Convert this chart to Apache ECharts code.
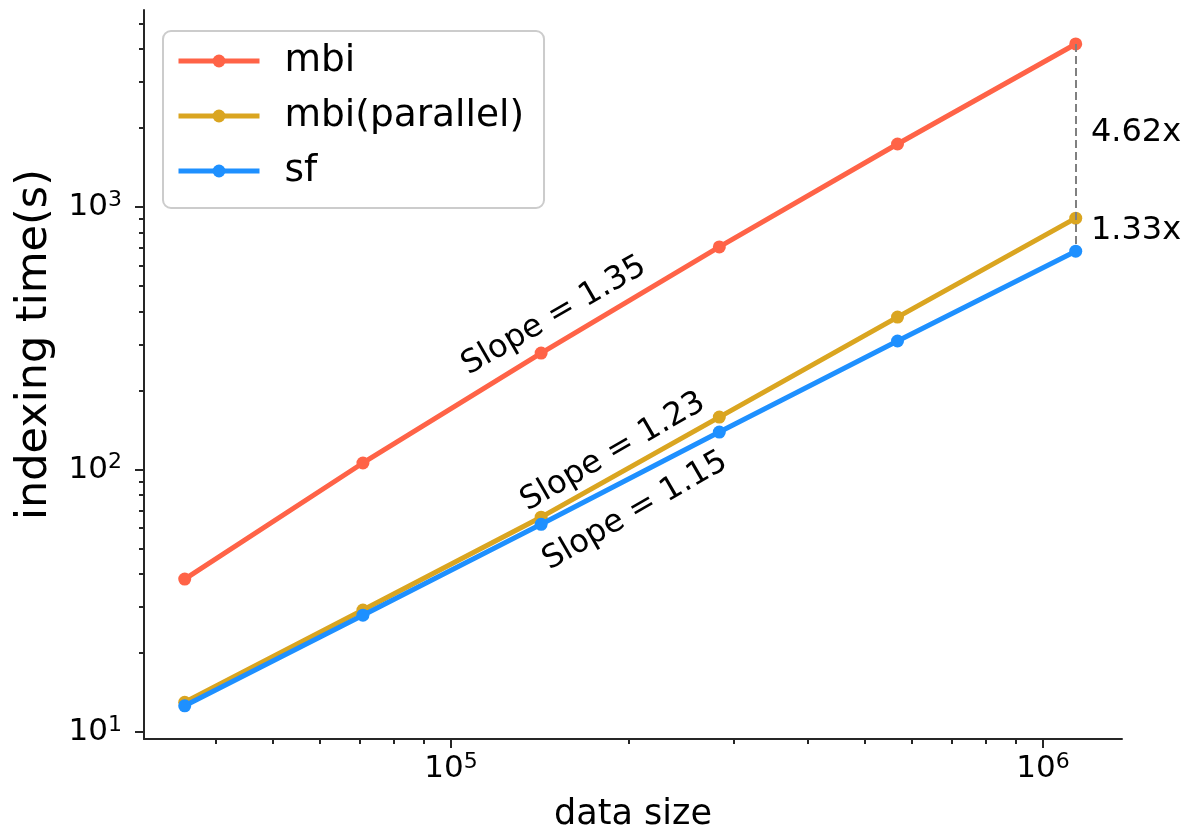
<!DOCTYPE html>
<html><head><meta charset="utf-8">
<script src="https://cdn.jsdelivr.net/npm/echarts@6/dist/echarts.min.js"></script>
<style>html,body{margin:0;padding:0;background:#fff}#c{width:1191px;height:838px}</style>
</head><body><div id="c"></div>
<script>
// ---- data ----
const dataSizes = [35500, 71000, 142000, 284000, 568000, 1136000];
const mbi = [38.3, 106, 278, 705, 1738, 4180];
const mbiParallel = [13.0, 29.2, 65.9, 158.5, 381, 907];
const sf = [12.6, 27.9, 61.9, 139, 309, 679];
const seriesNames = ['mbi', 'mbi(parallel)', 'sf'];
const xMajorTicks = [1e5, 1e6];
const yMajorTicks = [10, 100, 1000];
const slopeTexts = ['Slope = 1.35', 'Slope = 1.23', 'Slope = 1.15'];
const ratioTexts = ['4.62x', '1.33x'];

// ---- config ----
const FONT = 'DejaVu Sans';
const AX = '#262626';
const colors = ['#FF6347', '#DAA520', '#1E90FF'];
const xMin = 30300, xMax = 1.36e6, yMin = 9.42, yMax = 5630;

function minorTicks(lo, hi) {
  const out = [];
  for (let e = Math.floor(Math.log10(lo)); e <= Math.ceil(Math.log10(hi)); e++) {
    for (let m = 2; m <= 9; m++) {
      const v = m * Math.pow(10, e);
      if (v >= lo && v <= hi) out.push(v);
    }
  }
  return out;
}
const powFmt = v => '{b|10}{s|' + Math.round(Math.log10(v)) + '}';
const rich = {
  b: { fontSize: 31, fontFamily: FONT, color: '#000' },
  s: { fontSize: 22, fontFamily: FONT, color: '#000', padding: [0, 0, 14, 0] }
};
const tickLine = { lineStyle: { color: AX, width: 2 } };

function pairs(ys) { return dataSizes.map((x, i) => [x, ys[i]]); }

const lineSeries = [mbi, mbiParallel, sf].map((ys, i) => ({
  name: seriesNames[i],
  type: 'line',
  data: pairs(ys),
  symbol: 'circle',
  symbolSize: 13,
  lineStyle: { width: 5, color: colors[i] },
  itemStyle: { color: colors[i] },
  z: 3 + i
}));
lineSeries[2].markLine = {
  silent: true,
  symbol: ['none', 'none'],
  label: { show: false },
  lineStyle: { type: [8, 4], color: '#808080', width: 2 },
  data: [[{ coord: [dataSizes[5], mbi[5]] }, { coord: [dataSizes[5], sf[5]] }]]
};

const annotations = {
  type: 'scatter',
  silent: true,
  symbolSize: 0,
  z: 10,
  itemStyle: { opacity: 1 },
  label: { show: true, formatter: '{b}', position: 'inside', fontSize: 32, fontFamily: FONT,
           color: '#000', textBorderWidth: 0 },
  data: [
    { name: slopeTexts[0], value: [149300, 384.6], label: { rotate: 30 } },
    { name: slopeTexts[1], value: [187800, 116.6], label: { rotate: 30 } },
    { name: slopeTexts[2], value: [204700, 69.5], label: { rotate: 30 } },
    { name: ratioTexts[0], value: [1205000, 1914], label: { align: 'left' } },
    { name: ratioTexts[1], value: [1205000, 811], label: { align: 'left' } }
  ]
};

const chart = echarts.init(document.getElementById('c'), null, { renderer: 'canvas' });
chart.setOption({
  animation: false,
  backgroundColor: '#fff',
  grid: { left: 144, right: 69, top: 10, bottom: 99, containLabel: false },
  legend: {
    data: seriesNames,
    orient: 'vertical',
    left: 163, top: 31,
    padding: [11, 20, 18, 13],
    itemWidth: 81, itemHeight: 16, itemGap: 17,
    borderColor: '#cccccc', borderWidth: 2, borderRadius: 8,
    backgroundColor: 'rgba(255,255,255,0.8)',
    lineStyle: { width: 5 },
    textStyle: { fontSize: 37.5, fontFamily: FONT, color: '#000', padding: [0, 0, 0, 20] }
  },
  xAxis: [
    {
      type: 'log', logBase: 10, min: xMin, max: xMax,
      name: 'data size', nameLocation: 'middle', nameGap: 58,
      nameTextStyle: { fontSize: 35, fontFamily: FONT, color: '#000' },
      axisLine: { show: true, lineStyle: { color: AX, width: 2 } },
      axisTick: Object.assign({ show: true, customValues: xMajorTicks, length: 9 }, tickLine),
      axisLabel: { customValues: xMajorTicks, formatter: powFmt, rich: rich, margin: 12 },
      splitLine: { show: false }, minorTick: { show: false }
    },
    {
      type: 'log', logBase: 10, min: xMin, max: xMax, position: 'bottom',
      axisLine: { show: false },
      axisTick: Object.assign({ show: true, customValues: minorTicks(xMin, xMax), length: 5 }, tickLine),
      axisLabel: { show: false }, splitLine: { show: false }
    }
  ],
  yAxis: [
    {
      type: 'log', logBase: 10, min: yMin, max: yMax,
      name: 'indexing time(s)', nameLocation: 'middle', nameGap: 88,
      nameTextStyle: { fontSize: 43, fontFamily: FONT, color: '#000', padding: [0, 0, 0, 60] },
      axisLine: { show: true, lineStyle: { color: AX, width: 2 } },
      axisTick: Object.assign({ show: true, customValues: yMajorTicks, length: 9 }, tickLine),
      axisLabel: { customValues: yMajorTicks, formatter: powFmt, rich: rich, margin: 22 },
      splitLine: { show: false }, minorTick: { show: false }
    },
    {
      type: 'log', logBase: 10, min: yMin, max: yMax, position: 'left',
      axisLine: { show: false },
      axisTick: Object.assign({ show: true, customValues: minorTicks(yMin, yMax), length: 5 }, tickLine),
      axisLabel: { show: false }, splitLine: { show: false }
    }
  ],
  series: lineSeries.concat([annotations])
});
</script></body></html>
